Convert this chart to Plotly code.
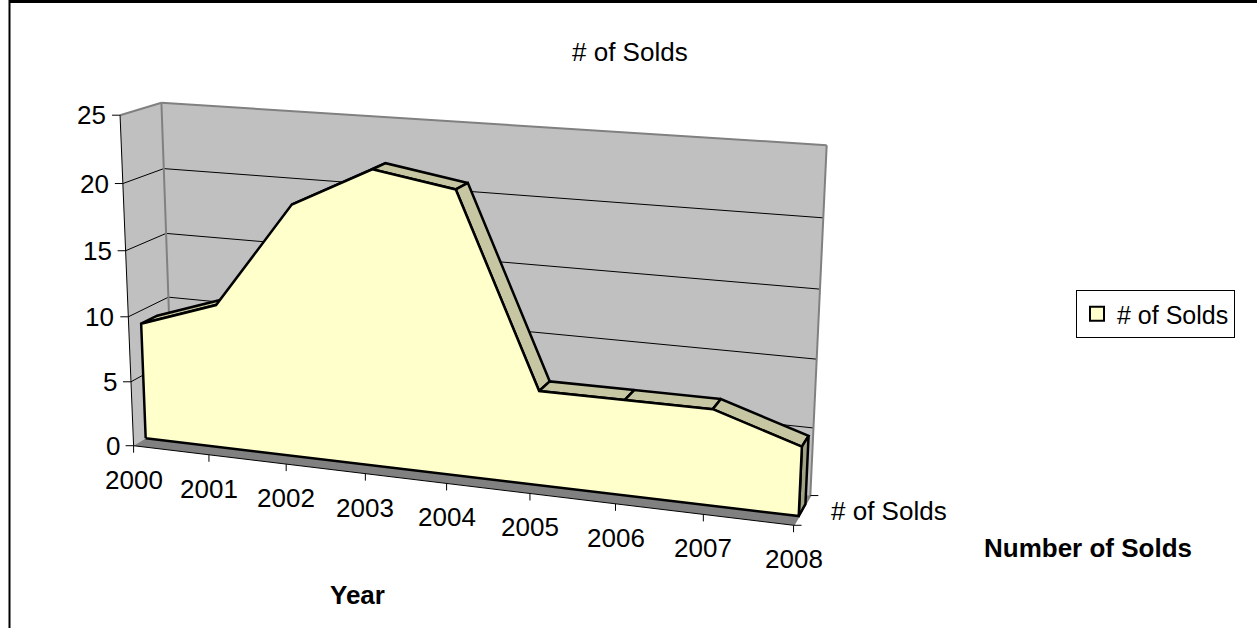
import numpy as np
import plotly.graph_objects as go

# ---------------- data ----------------
years = ["2000", "2001", "2002", "2003", "2004", "2005", "2006", "2007", "2008"]
sold = [9, 11, 19, 22, 21, 7, 7, 7, 5]
value_ticks = [0, 5, 10, 15, 20, 25]
series_name = "# of Solds"
chart_title = "# of Solds"
category_title = "Year"
series_axis_title = "Number of Solds"

# ---------------- page / style ----------------
W, H = 1257, 628
FONT = "Liberation Sans, Arial, Helvetica, sans-serif"
FS = 26
WALL = "#C0C0C0"
WALL_EDGE = "#808080"
FLOOR = "#808080"
FRONT = "#FFFFCC"
TOP = "#C6C6A2"
SIDE = "#A2A284"
Z_FRONT, Z_BACK = 0.30, 0.70   # depth slot of the single series

# ---------------- camera (Excel-like 3-D view) ----------------
# world = (category index, value, depth 0=front..1=back wall) -> page pixel
VIEW_WORLD = [(0, 0, 0), (0, 5, 0), (0, 20, 0), (0, 25, 0),
              (1, 0, 0), (2, 0, 0), (3, 0, 0), (6, 0, 0), (7, 0, 0), (8, 0, 0),
              (0, 25, 1), (0, 15, 1), (0, 10, 1),
              (8, 25, 1), (8, 20, 1), (8, 10, 1), (8, 5, 1)]
VIEW_PAGE = [(133.3, 446), (130.7, 381.7), (123, 184), (120.7, 115),
             (209, 455), (286, 464.2), (365, 473.7), (615.7, 503.6), (702.7, 514), (794.3, 525),
             (160, 102.7), (166.7, 233), (169.3, 297),
             (826.7, 145), (823.3, 218.3), (816.7, 359.3), (813.3, 428.3)]


def fit_camera(world, page):
    Wd = np.asarray(world, float)
    U = np.asarray(page, float)
    mw = Wd.mean(0)
    sw = Wd.std(0)
    sw[sw == 0] = 1
    mu = U.mean(0)
    su = U.std()
    Wn = (Wd - mw) / sw
    Un = (U - mu) / su
    rows = []
    for (X, Y, Z), (u, v) in zip(Wn, Un):
        rows.append([X, Y, Z, 1, 0, 0, 0, 0, -u * X, -u * Y, -u * Z, -u])
        rows.append([0, 0, 0, 0, X, Y, Z, 1, -v * X, -v * Y, -v * Z, -v])
    _, _, Vt = np.linalg.svd(np.array(rows))
    Pn = Vt[-1].reshape(3, 4)
    Tw = np.eye(4)
    Tw[:3, :3] = np.diag(1 / sw)
    Tw[:3, 3] = -mw / sw
    Tu = np.array([[1 / su, 0, -mu[0] / su], [0, 1 / su, -mu[1] / su], [0, 0, 1]])
    return np.linalg.inv(Tu) @ Pn @ Tw


P = fit_camera(VIEW_WORLD, VIEW_PAGE)


def proj(X, Y, Z):
    p = P @ np.array([X, Y, Z, 1.0])
    return p[0] / p[2], p[1] / p[2]


def poly(pts3, fill, edge="rgba(0,0,0,0)", lw=0):
    uv = [proj(*p) for p in pts3]
    xs = [a for a, _ in uv] + [uv[0][0]]
    ys = [b for _, b in uv] + [uv[0][1]]
    return go.Scatter(x=xs, y=ys, mode="lines", fill="toself", fillcolor=fill,
                      line=dict(color=edge, width=lw), hoverinfo="skip", showlegend=False)


def segs(pairs, color, lw):
    xs, ys = [], []
    for a, b in pairs:
        xs += [a[0], b[0], None]
        ys += [a[1], b[1], None]
    return go.Scatter(x=xs, y=ys, mode="lines", line=dict(color=color, width=lw),
                      hoverinfo="skip", showlegend=False)


def signed_area(uv):
    s = 0.0
    for i in range(len(uv)):
        x1, y1 = uv[i]
        x2, y2 = uv[(i + 1) % len(uv)]
        s += x1 * y2 - x2 * y1
    return s / 2


n = len(years)
xmax = n - 1
vmax = value_ticks[-1]
traces = []

# walls and floor
traces.append(poly([(0, 0, 0), (0, vmax, 0), (0, vmax, 1), (0, 0, 1)], WALL))
traces.append(poly([(0, 0, 1), (xmax, 0, 1), (xmax, vmax, 1), (0, vmax, 1)], WALL))
traces.append(poly([(0, 0, 0), (xmax, 0, 0), (xmax, 0, 1), (0, 0, 1)], FLOOR))

# gridlines on back and side wall
grid = []
for t in value_ticks[1:-1]:
    grid.append((proj(0, t, 0), proj(0, t, 1)))
    grid.append((proj(0, t, 1), proj(xmax, t, 1)))
traces.append(segs(grid, "black", 1))

# wall edges
edges = [(proj(0, vmax, 0), proj(0, vmax, 1)), (proj(0, vmax, 1), proj(xmax, vmax, 1)),
         (proj(xmax, vmax, 1), proj(xmax, 0, 1)), (proj(0, 0, 1), proj(0, vmax, 1)),
         (proj(xmax, 0, 0), proj(xmax, 0, 1))]
traces.append(segs(edges, WALL_EDGE, 2))

# axes and tick marks
axl = [(proj(0, 0, 0), proj(0, vmax, 0)), (proj(0, 0, 0), proj(xmax, 0, 0))]
for t in value_ticks:
    u, v = proj(0, t, 0)
    axl.append(((u - 8, v), (u, v)))
for i in range(n):
    u, v = proj(i, 0, 0)
    axl.append(((u, v), (u, v + 7)))
for z in (0, 1):
    u, v = proj(xmax, 0, z)
    axl.append(((u, v), (u + 8, v)))
traces.append(segs(axl, "black", 1))

# ---- the 3-D area ----
ref = [proj(0, 0, Z_FRONT), proj(1, 0, Z_FRONT), proj(1, 0, Z_BACK), proj(0, 0, Z_BACK)]
ref_sign = np.sign(signed_area(ref))
for i in range(n - 1):
    q = [(i, sold[i], Z_FRONT), (i + 1, sold[i + 1], Z_FRONT),
         (i + 1, sold[i + 1], Z_BACK), (i, sold[i], Z_BACK)]
    if np.sign(signed_area([proj(*p) for p in q])) == ref_sign:
        traces.append(poly(q, TOP, "black", 2.5))
traces.append(poly([(xmax, 0, Z_FRONT), (xmax, sold[-1], Z_FRONT),
                    (xmax, sold[-1], Z_BACK), (xmax, 0, Z_BACK)], SIDE, "black", 2.5))
front = [(0, 0, Z_FRONT)] + [(i, sold[i], Z_FRONT) for i in range(n)] + [(xmax, 0, Z_FRONT)]
traces.append(poly(front, FRONT, "black", 2.5))

# legend entry
traces.append(go.Scatter(x=[None], y=[None], mode="markers", name=series_name,
                         marker=dict(symbol="square", size=14, color=FRONT,
                                     line=dict(color="black", width=2)),
                         showlegend=True))

fig = go.Figure(traces)

ann = []
for t in value_ticks:
    u, v = proj(0, t, 0)
    ann.append(dict(x=u - 12, y=v, text=str(t), xanchor="right", yanchor="middle"))
for i, yr in enumerate(years):
    u, v = proj(i, 0, 0)
    ann.append(dict(x=u, y=v + 34, text=yr, xanchor="center", yanchor="middle"))
u, v = proj(xmax, 0, 0.5)
ann.append(dict(x=u + 27, y=v + 1, text=series_name, xanchor="left", yanchor="middle"))
ann.append(dict(x=630, y=52, text=chart_title, xanchor="center", yanchor="middle"))
ann.append(dict(x=357, y=595, text="<b>%s</b>" % category_title, xanchor="center", yanchor="middle"))
ann.append(dict(x=1088, y=548, text="<b>%s</b>" % series_axis_title, xanchor="center", yanchor="middle"))
for a in ann:
    a.update(xref="x", yref="y", showarrow=False,
             font=dict(family=FONT, size=FS, color="black"))

fig.update_layout(
    width=W, height=H, margin=dict(l=0, r=0, t=0, b=0),
    paper_bgcolor="white", plot_bgcolor="white",
    xaxis=dict(range=[0, W], visible=False, fixedrange=True),
    yaxis=dict(range=[H, 0], visible=False, fixedrange=True),
    annotations=ann,
    showlegend=True,
    legend=dict(x=1076 / W, y=1 - 290 / H, xanchor="left", yanchor="top",
                bgcolor="white", bordercolor="black", borderwidth=1,
                font=dict(family=FONT, size=25, color="black"),
                itemwidth=30, tracegroupgap=0),
    shapes=[dict(type="line", xref="x", yref="y", x0=9, y0=1.5, x1=W, y1=1.5,
                 line=dict(color="black", width=3)),
            dict(type="line", xref="x", yref="y", x0=9.5, y0=0, x1=9.5, y1=H,
                 line=dict(color="black", width=2))],
)

fig.write_html("out.html", config={"displayModeBar": False},
               post_script="document.body.style.margin='0';document.body.style.overflow='hidden';")
